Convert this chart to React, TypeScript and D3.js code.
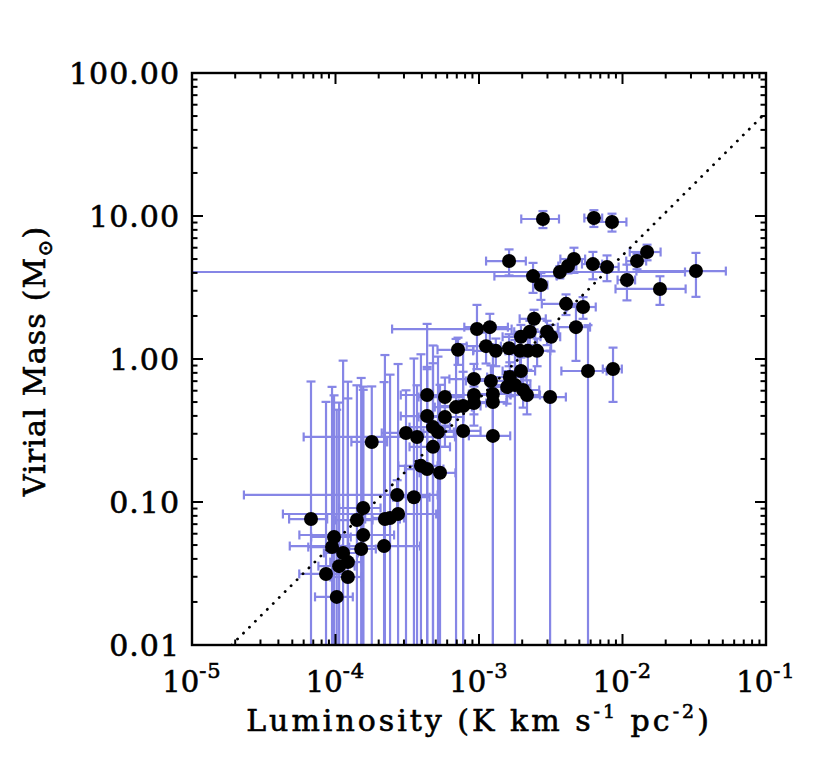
import React from 'react';
import * as d3 from 'd3';

// Luminosity (K km s^-1 pc^-2)
const luminosity = [
  2.79e-3, 6.32e-3, 8.45e-3, 1.62e-3, 2.38e-3, 2.70e-3, 3.66e-3, 4.17e-3, 4.59e-3, 6.22e-3,
  7.80e-3, 1.074e-2, 1.262e-2, 1.483e-2, 1.824e-2, 3.25e-2, 4.04e-3, 5.31e-3, 2.42e-3, 4.74e-3,
  9.68e-4, 1.19e-3, 2.98e-3, 3.18e-3, 1.96e-3, 2.26e-3, 7.14e-4, 1.12e-3, 1.31e-3, 1.62e-3,
  1.93e-3, 2.19e-3, 2.54e-3, 5.75e-3, 8.59e-3, 9.22e-4, 1.21e-3, 1.64e-3, 1.96e-3, 1.57e-3,
  1.78e-3, 2.03e-3, 2.16e-3, 1.25e-3, 1.25e-3, 9.22e-4, 9.22e-4, 3.13e-3, 4.35e-4, 5.79e-4,
  6.92e-4, 7.75e-4, 4.35e-4, 5.79e-4, 4.78e-4, 5.18e-4, 7.75e-4, 1.25e-3, 1.79e-4, 3.10e-4,
  3.70e-4, 4.78e-4, 3.94e-4, 4.35e-4, 5.35e-4, 2.69e-4, 3.52e-4, 1.56e-4, 1.41e-4, 6.75e-5,
  2.21e-4, 2.40e-4, 2.73e-4, 1.56e-4, 9.77e-5, 9.46e-5, 1.51e-4, 2.18e-4, 1.13e-4, 1.22e-4,
  1.06e-4, 8.59e-5, 1.22e-4, 1.02e-4,
];

// Virial mass (M_sun)
const virialMass = [
  9.53, 9.68, 9.08, 4.84, 3.80, 3.29, 4.06, 4.47, 5.00, 4.61,
  4.40, 3.57, 4.84, 5.60, 3.09, 4.12, 2.43, 2.31, 1.91, 1.67,
  1.62, 1.67, 1.55, 1.43, 1.43, 1.55, 1.16, 1.23, 1.14, 1.19,
  1.14, 1.14, 1.14, 0.824, 0.851, 0.724, 0.702, 0.748, 0.824, 0.637,
  0.658, 0.607, 0.560, 0.569, 0.500, 0.560, 0.492, 0.542, 0.560, 0.542,
  0.461, 0.469, 0.399, 0.393, 0.334, 0.309, 0.314, 0.290, 0.263, 0.304,
  0.285, 0.243, 0.179, 0.170, 0.160, 0.112, 0.108, 0.0908, 0.0748, 0.0760,
  0.0760, 0.0773, 0.0824, 0.0588, 0.0569, 0.0484, 0.0469, 0.0492, 0.0440, 0.0380,
  0.0356, 0.0314, 0.0299, 0.0217,
];

// 1-sigma errors (linear)
const luminosityErr = [
  0.82e-3, 0.9e-3, 2.2e-3, 0.5e-3, 1.1e-3, 0.3e-3, 2.36e-2, 0.6e-3, 0.9e-3, 1.0e-3,
  1.6e-3, 1.5e-3, 2.0e-3, 3.6e-3, 9.3e-3, 2.0e-2, 1.3e-3, 1.2e-3, 0.5e-3, 1.2e-3,
  7.2e-4, 0.4e-3, 0.6e-3, 0.5e-3, 0.5e-3, 0.5e-3, 0.2e-3, 0.3e-3, 0.4e-3, 0.5e-3,
  0.4e-3, 0.5e-3, 0.6e-3, 2.0e-3, 1.3e-3, 0.3e-3, 0.4e-3, 0.5e-3, 0.5e-3, 0.4e-3,
  0.5e-3, 0.6e-3, 0.5e-3, 0.4e-3, 0.3e-3, 0.3e-3, 0.2e-3, 0.9e-3, 1.5e-4, 2.0e-4,
  2.0e-4, 2.5e-4, 1.5e-4, 2.0e-4, 1.5e-4, 1.5e-4, 2.5e-4, 0.4e-3, 0.5e-4, 1.0e-4,
  3.1e-4, 1.5e-4, 1.2e-4, 1.3e-4, 1.5e-4, 2.46e-4, 1.0e-4, 0.5e-4, 0.4e-4, 0.2e-4,
  0.6e-4, 0.6e-4, 2.3e-4, 1.0e-4, 0.3e-4, 0.3e-4, 0.4e-4, 1.7e-4, 0.3e-4, 0.3e-4,
  0.3e-4, 0.3e-4, 0.3e-4, 0.3e-4,
];

const massErr = [
  1.3, 1.3, 1.3, 1.0, 0.9, 0.7, 0.4, 0.5, 1.0, 1.0,
  0.9, 1.0, 0.6, 0.7, 0.7, 1.4, 0.4, 0.4, 0.3, 0.7,
  0.77, 0.4, 0.3, 0.3, 0.3, 0.3, 0.25, 0.3, 0.25, 0.3,
  0.25, 0.3, 0.25, 0.9, 0.35, 0.2, 0.2, 0.2, 0.2, 0.15,
  0.7, 0.15, 0.15, 0.6, 0.2, 0.15, 0.15, 0.6, 1.2, 0.2,
  0.92, 0.8, 0.45, 0.15, 0.6, 0.73, 0.5, 0.4, 0.38, 0.30,
  0.37, 1.0, 0.9, 0.71, 0.5, 0.03, 0.9, 0.55, 0.58, 0.62,
  0.99, 0.7, 0.84, 0.55, 0.5, 0.59, 0.69, 0.64, 0.93, 0.656,
  0.46, 0.47, 0.5, 0.42,
];

const xTickExponents = [-5, -4, -3, -2, -1];
const yTickValues = [0.01, 0.1, 1, 10, 100];
const yTickLabels = ['0.01', '0.10', '1.00', '10.00', '100.00'];
const fitRatio = 530; // M = 530 * L (dotted line)

const FONT = '"DejaVu Serif", serif';
const BAR = '#8686e6';

export default function App() {
  const W = 822, H = 767;
  const left = 192, right = 766, top = 73, bottom = 645;
  const x = d3.scaleLog().domain([1e-5, 1e-1]).range([left, right]);
  const y = d3.scaleLog().domain([0.01, 100]).range([bottom, top]);

  const xMinor: number[] = [];
  for (let d = -5; d < -1; d++) for (let k = 2; k <= 9; k++) xMinor.push(k * Math.pow(10, d));
  const yMinor: number[] = [];
  for (let d = -2; d < 2; d++) for (let k = 2; k <= 9; k++) yMinor.push(k * Math.pow(10, d));
  const xMajor = xTickExponents.map((e) => Math.pow(10, e));

  const cap = 4.5;
  const bars: React.ReactNode[] = [];
  luminosity.forEach((L, i) => {
    const M = virialMass[i];
    const sx = luminosityErr[i];
    const sy = massErr[i];
    const cx = x(L), cy = y(M);
    const xl = L - sx, xh = L + sx;
    const yl = M - sy, yh = M + sy;
    const pxl = xl > 0 ? x(xl) : left - 30;
    const pxh = x(xh);
    const pyl = yl > 0 ? y(yl) : bottom + 30;
    const pyh = y(yh);
    bars.push(
      <g key={'e' + i}>
        <line x1={pxl} x2={pxh} y1={cy} y2={cy} />
        <line x1={pxl} x2={pxl} y1={cy - cap} y2={cy + cap} />
        <line x1={pxh} x2={pxh} y1={cy - cap} y2={cy + cap} />
        <line x1={cx} x2={cx} y1={pyl} y2={pyh} />
        <line x1={cx - cap} x2={cx + cap} y1={pyl} y2={pyl} />
        <line x1={cx - cap} x2={cx + cap} y1={pyh} y2={pyh} />
      </g>
    );
  });

  const fitLine = d3.line<number>()
    .x((L) => x(L))
    .y((L) => y(L * fitRatio))([0.01 / fitRatio, 1e-1]);

  const textStroke = { stroke: '#000', strokeWidth: 0.6 };

  return (
    <svg width={W} height={H} style={{ position: 'absolute', left: 0, top: 0, background: '#fff' }}>
      <defs>
        <clipPath id="plotClip">
          <rect x={left} y={top} width={right - left} height={bottom - top} />
        </clipPath>
      </defs>
      <rect x={0} y={0} width={W} height={H} fill="#fff" />
      <g clipPath="url(#plotClip)">
        <g stroke={BAR} strokeWidth={2.2} fill="none">{bars}</g>
        <path d={fitLine || ''} fill="none" stroke="#000" strokeWidth={2.8}
          strokeDasharray="0.1 8.3" strokeLinecap="round" />
        <g fill="#000">
          {luminosity.map((L, i) => (
            <circle key={'p' + i} cx={x(L)} cy={y(virialMass[i])} r={7} />
          ))}
        </g>
      </g>
      {/* ticks */}
      <g stroke="#000" strokeWidth={2}>
        {xMajor.map((v, i) => (
          <g key={'xM' + i}>
            <line x1={x(v)} x2={x(v)} y1={bottom} y2={bottom - 11} />
            <line x1={x(v)} x2={x(v)} y1={top} y2={top + 11} />
          </g>
        ))}
        {xMinor.map((v, i) => (
          <g key={'xm' + i}>
            <line x1={x(v)} x2={x(v)} y1={bottom} y2={bottom - 5.5} />
            <line x1={x(v)} x2={x(v)} y1={top} y2={top + 5.5} />
          </g>
        ))}
        {yTickValues.map((v, i) => (
          <g key={'yM' + i}>
            <line x1={left} x2={left + 11} y1={y(v)} y2={y(v)} />
            <line x1={right} x2={right - 11} y1={y(v)} y2={y(v)} />
          </g>
        ))}
        {yMinor.map((v, i) => (
          <g key={'ym' + i}>
            <line x1={left} x2={left + 5.5} y1={y(v)} y2={y(v)} />
            <line x1={right} x2={right - 5.5} y1={y(v)} y2={y(v)} />
          </g>
        ))}
      </g>
      <rect x={left} y={top} width={right - left} height={bottom - top} fill="none" stroke="#000" strokeWidth={2.4} />
      {/* tick labels */}
      <g fontFamily={FONT} fill="#000" {...textStroke}>
        {yTickValues.map((v, i) => (
          <text key={'yl' + i} x={180} y={y(v)} dy="0.38em" textAnchor="end" fontSize={30} letterSpacing={1}>{yTickLabels[i]}</text>
        ))}
        {xTickExponents.map((e, i) => (
          <text key={'xl' + i} x={x(Math.pow(10, e))} y={692} textAnchor="middle" fontSize={29}>
            10<tspan fontSize={21} dy={-14} letterSpacing={1}>{'-' + Math.abs(e)}</tspan>
          </text>
        ))}
        <text x={479} y={731} textAnchor="middle" fontSize={30} letterSpacing={3}>
          Luminosity (K km s<tspan fontSize={19} dy={-13}>-1</tspan><tspan dy={13}> pc</tspan><tspan fontSize={19} dy={-13}>-2</tspan><tspan dy={13}>)</tspan>
        </text>
        <text transform="translate(45,361) rotate(-90)" textAnchor="middle" fontSize={30} letterSpacing={1.2}>
          Virial Mass (M<tspan fontSize={20} dy={7}>⊙</tspan><tspan dy={-7}>)</tspan>
        </text>
      </g>
    </svg>
  );
}
